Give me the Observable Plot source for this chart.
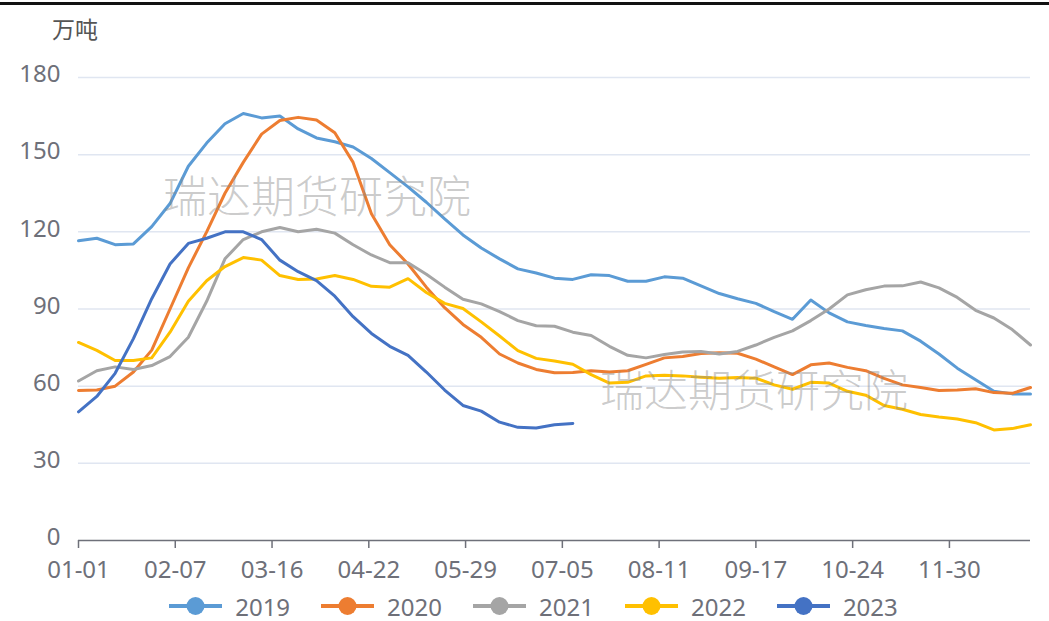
<!DOCTYPE html>
<html>
<head>
<meta charset="utf-8">
<script src="https://cdn.jsdelivr.net/npm/d3@7"></script>
<script src="https://cdn.jsdelivr.net/npm/@observablehq/plot@0.6"></script>
<style>
  html, body { margin: 0; padding: 0; background: #fff; }
  #wrap { position: relative; width: 1049px; height: 621px; overflow: hidden; font-family: "Noto Sans", "Noto Sans CJK SC", sans-serif; }
  #topline { position: absolute; left: 0; top: 2px; width: 1049px; height: 3px; background: #111; }
  #unit { position: absolute; left: 52px; top: 11px; font-size: 23px; color: #555; font-family: "Noto Sans CJK SC", sans-serif; }
  .wm { position: absolute; font-family: "Noto Sans CJK SC", sans-serif; font-size: 44px; font-weight: 300; color: rgba(140,140,140,0.45); white-space: nowrap; pointer-events: none; }
  #legend { position: absolute; left: 0; top: 592px; width: 1049px; height: 28px; display: flex; justify-content: center; align-items: center; gap: 31px; padding-left: 18px; box-sizing: border-box; }
  .item { display: flex; align-items: center; gap: 13px; font-size: 24px; color: #6E7079; }
</style>
</head>
<body>
<div id="wrap">
  <div id="chart"></div>
  <div id="topline"></div>
  <div id="unit">万吨</div>
  <div class="wm" style="left:163px; top:162px;">瑞达期货研究院</div>
  <div class="wm" style="left:600px; top:356px;">瑞达期货研究院</div>
  <div id="legend"></div>
</div>
<script>
// Day-of-year (0 = 01-01) for each weekly observation
const days = [0,7,14,21,28,35,42,49,56,63,70,77,84,91,98,105,112,119,126,133,140,147,154,161,168,175,182,189,196,203,210,217,224,231,238,245,252,259,266,273,280,287,294,301,308,315,322,329,336,343,350,357,364];

const years = ["2019", "2020", "2021", "2022", "2023"];
const colors = ["#5B9BD5", "#ED7D31", "#A5A5A5", "#FFC000", "#4472C4"];

const v2019 = [116.5,117.5,115,115.3,122,131,145.5,154.5,162,166,164.3,165,160,156.5,155,153,148.5,143,137.5,131.5,125,118.8,113.7,109.5,105.6,104,102,101.5,103.3,103,100.8,100.8,102.5,102,99,96,94,92.2,89,86,93.5,88.5,85,83.6,82.4,81.5,77.5,72.5,67,62.5,58,57,57];
const v2020 = [58.3,58.5,60,65.5,74,90,106,120,135,147,158,163.3,164.5,163.5,158.5,147,127,115,107.5,98.5,90.5,84,79,72.5,69,66.5,65.2,65.3,66,65.5,66,68.5,71,71.5,72.7,73,72.8,70.5,67.5,64.5,68.3,69,67.3,66,63,60.5,59.5,58.3,58.5,59,57.5,57.2,59.5];
const v2021 = [62,66,67.5,66.5,68,71.5,79,93,109.5,117,120,121.7,120,121,119.5,115,111,108,108,103.5,98.5,93.8,92,89,85.5,83.5,83.3,81,79.7,75.5,72,71,72.3,73.3,73.5,72.5,73.5,76,79,81.5,85.5,90,95.5,97.5,98.9,99,100.5,98.2,94.5,89.5,86.5,82,76];
const v2022 = [77,73.9,70,70,71,81,93,101,106.5,110,109,103,101.5,101.7,103,101.5,98.8,98.5,101.8,96.4,92.2,90.2,85,79.5,73.8,70.8,69.8,68.5,64.5,61.2,61.5,64,64.2,64,63.5,63.1,63.4,63.1,60.5,58.8,61.5,61.2,58,56.5,52.5,51,49,48,47.2,45.8,43,43.5,45];
const v2023 = [50,56,65,78.5,94,107.5,115.5,117.5,120,120,117,109,104.5,101,95,87,80.5,75.5,72,65.5,58.5,52.5,50.3,46,44,43.7,45,45.5];

const tickDays = [0,37,74,111,148,185,222,259,296,333];
const tickLabels = ["01-01","02-07","03-16","04-22","05-29","07-05","08-11","09-17","10-24","11-30"];
const yTicks = [0,30,60,90,120,150,180];

const seriesValues = [v2019, v2020, v2021, v2022, v2023];
const data = [];
years.forEach((yr, i) => {
  seriesValues[i].forEach((v, j) => data.push({year: yr, day: days[j], value: v}));
});

const chart = Plot.plot({
  width: 1049,
  height: 590,
  marginLeft: 78,
  marginRight: 19,
  marginTop: 77,
  marginBottom: 50,
  style: {fontFamily: "'Noto Sans', 'Noto Sans CJK SC', sans-serif", fontSize: "24px", color: "#6E7079", background: "transparent"},
  x: {domain: [0, 364]},
  y: {domain: [0, 180]},
  color: {domain: years, range: colors},
  marks: [
    Plot.gridY(yTicks.filter(d => d > 0), {stroke: "#E0E6F1", strokeOpacity: 1, strokeWidth: 1.5}),
    Plot.axisY(yTicks, {tickSize: 0, tickPadding: 18, label: null, dy: -3}),
    Plot.line(data, {x: "day", y: "value", z: "year", stroke: "year", strokeWidth: 3, strokeLinejoin: "round", strokeLinecap: "round"}),
    Plot.ruleY([0], {stroke: "#6E7079", strokeWidth: 1.5}),
    Plot.axisX(tickDays, {tickFormat: (d) => tickLabels[tickDays.indexOf(d)], tickSize: 8, tickPadding: 12, label: null, strokeWidth: 1.5})
  ]
});
document.getElementById("chart").appendChild(chart);

// Legend
const legend = document.getElementById("legend");
years.forEach((yr, i) => {
  const item = document.createElement("div");
  item.className = "item";
  item.innerHTML = `<svg width="53" height="20" viewBox="0 0 53 20"><line x1="0" y1="10" x2="53" y2="10" stroke="${colors[i]}" stroke-width="4"/><circle cx="26.5" cy="10" r="9" fill="${colors[i]}"/></svg><span>${yr}</span>`;
  legend.appendChild(item);
});
</script>
</body>
</html>
